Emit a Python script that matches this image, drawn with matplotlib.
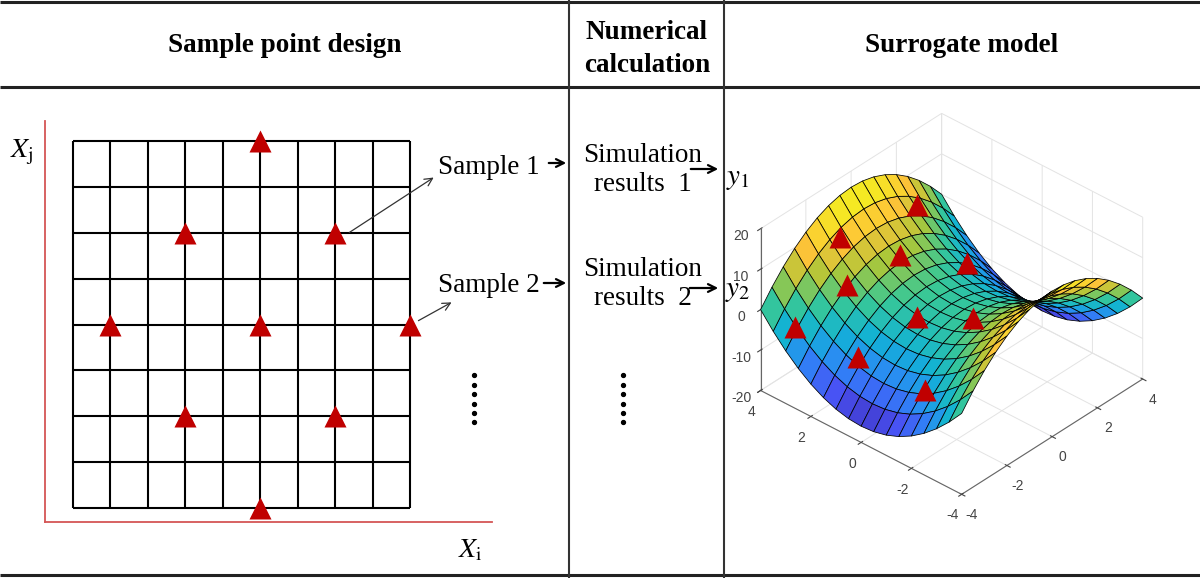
import numpy as np
import matplotlib.pyplot as plt
from matplotlib.colors import LinearSegmentedColormap

plt.rcParams['font.family'] = ['Liberation Serif', 'DejaVu Serif']
plt.rcParams['mathtext.fontset'] = 'stix'
plt.rcParams['axes.unicode_minus'] = False

headers = ['Sample point design', 'Numerical\ncalculation', 'Surrogate model']
sample_labels = ['Sample 1', 'Sample 2']
result_labels = ['Simulation\nresults  1', 'Simulation\nresults  2']
output_labels = [r'$y_1$', r'$y_2$']

# sample design on a 9 x 8 grid (column, row)
grid_cols = 9
grid_rows = 8
design_col = [5, 3, 7, 1, 5, 9, 3, 7, 5]
design_row = [8, 6, 6, 4, 4, 4, 2, 2, 0]

mesh = [-4, -3.5, -3, -2.5, -2, -1.5, -1, -0.5, 0, 0.5, 1, 1.5, 2, 2.5, 3, 3.5, 4]
ridge = [0, 3.75, 7, 9.75, 12, 13.75, 15, 15.75, 16, 15.75, 15, 13.75, 12, 9.75, 7, 3.75, 0]
xy_ticks = [-4, -2, 0, 2, 4]
z_ticks = [-20, -10, 0, 10, 20]

# sample points marked on the surface (pixel positions in the figure)
surf_pt_x = [917, 840, 900, 967, 847, 795, 917, 973, 858, 925]
surf_pt_y = [205, 237, 255, 263, 285, 327, 317, 318, 357, 390]

parula = LinearSegmentedColormap.from_list('parula', [
    (0.2422, 0.1504, 0.6603), (0.2810, 0.3228, 0.9579), (0.1786, 0.5289, 0.9682),
    (0.0689, 0.6948, 0.8394), (0.2161, 0.7843, 0.5923), (0.6720, 0.7793, 0.2227),
    (0.9970, 0.7659, 0.2199), (0.9598, 0.9060, 0.1423), (0.9769, 0.9839, 0.0805)])

RED = '#c00000'
fig = plt.figure(figsize=(12, 5.78), dpi=100)

# ---- surface (right column)
ax3 = fig.add_axes([737 / 1200, 28 / 578, 418 / 1200, 481 / 578], projection='3d')
X, Y = np.meshgrid(mesh, mesh)
Z = np.array(ridge)[None, :] - np.array(ridge)[:, None]
ax3.plot_surface(X, Y, Z, cmap=parula, vmin=-17, vmax=18, edgecolor='k', linewidth=0.55,
                 rstride=1, cstride=1, shade=False, antialiased=True)
ax3.set_proj_type('ortho')
ax3.view_init(elev=35, azim=-138)
ax3.set_box_aspect((1, 1, 0.73))
ax3.set_xlim(-4, 4)
ax3.set_ylim(-4, 4)
ax3.set_zlim(-20, 20)
ax3.set_xticks(xy_ticks)
ax3.set_yticks(xy_ticks)
ax3.set_zticks(z_ticks)
for axis in (ax3.xaxis, ax3.yaxis, ax3.zaxis):
    axis.set_pane_color((1, 1, 1, 0))
    axis._axinfo['grid'].update(color='#e3e3e3', linewidth=0.7)
    axis.line.set_color('#666666')
    axis.line.set_linewidth(0.8)
ax3.tick_params(labelsize=10, colors='#444444', pad=0)
for lab in ax3.get_xticklabels() + ax3.get_yticklabels() + ax3.get_zticklabels():
    lab.set_family('Liberation Sans')

# ---- sample grid (left column)
gx = fig.add_axes([45 / 1200, 56 / 578, 447 / 1200, 401 / 578])
gx.set_xlim(-0.748, 11.19)
gx.set_ylim(-0.305, 8.436)
gx.vlines(range(grid_cols + 1), 0, grid_rows, color='k', lw=1.5)
gx.hlines(range(grid_rows + 1), 0, grid_cols, color='k', lw=1.5)
gx.plot(design_col, design_row, '^', color=RED, ms=16, mec='none', zorder=3)
gx.patch.set_alpha(0)
for s in ('top', 'right'):
    gx.spines[s].set_visible(False)
for s in ('left', 'bottom'):
    gx.spines[s].set_color('#d45555')
    gx.spines[s].set_linewidth(1.3)
gx.set_xticks([])
gx.set_yticks([])

# ---- overlay: table, labels, arrows
ov = fig.add_axes([0, 0, 1, 1])
ov.set_xlim(0, 1200)
ov.set_ylim(578, 0)
ov.axis('off')
ov.patch.set_alpha(0)

ov.hlines([2, 87, 575], 0, 1200, color='#222222', lw=2.2)
ov.vlines([569, 724], 0, 578, color='#333333', lw=1.5)

head_x = [285, 647, 962]
head_y = [46, 49, 46]
for hx, hy, h in zip(head_x, head_y, headers):
    ov.text(hx, hy, h, ha='center', va='center', fontsize=19.5,
            fontweight='bold', linespacing=1.4)

ov.text(22, 152, r'$X_{\mathrm{j}}$', fontsize=20, ha='center', va='center')
ov.text(470, 551, r'$X_{\mathrm{i}}$', fontsize=20, ha='center', va='center')

for sy, s in zip([167, 285], sample_labels):
    ov.text(438, sy, s, fontsize=19.5, ha='left', va='center')
for ry, r in zip([170, 284], result_labels):
    ov.text(643, ry, r, fontsize=19.5, ha='center', va='center', linespacing=1.25)
for yy, y in zip([179, 291], output_labels):
    ov.text(738, yy, y, fontsize=21, ha='center', va='center')

thin = dict(arrowstyle='->', color='#333333', lw=0.9, mutation_scale=14)
bold = dict(arrowstyle='->', color='k', lw=1.6, mutation_scale=14)
ov.annotate('', xy=(436, 176), xytext=(347, 234), arrowprops=thin)
ov.annotate('', xy=(454, 301), xytext=(416, 322), arrowprops=thin)
ov.annotate('', xy=(569, 163), xytext=(546, 163), arrowprops=bold)
ov.annotate('', xy=(569, 283), xytext=(541, 283), arrowprops=bold)
ov.annotate('', xy=(721, 169), xytext=(688, 169), arrowprops=bold)
ov.annotate('', xy=(721, 288), xytext=(687, 288), arrowprops=bold)

dots_y = [375, 384.5, 394, 403.5, 413, 422]
for dx in (474, 623):
    ov.plot([dx] * len(dots_y), dots_y, 'o', color='k', ms=2.8)

ov.plot(surf_pt_x, surf_pt_y, '^', color=RED, ms=16, mec='none')

fig.savefig('out.png', dpi=100)
